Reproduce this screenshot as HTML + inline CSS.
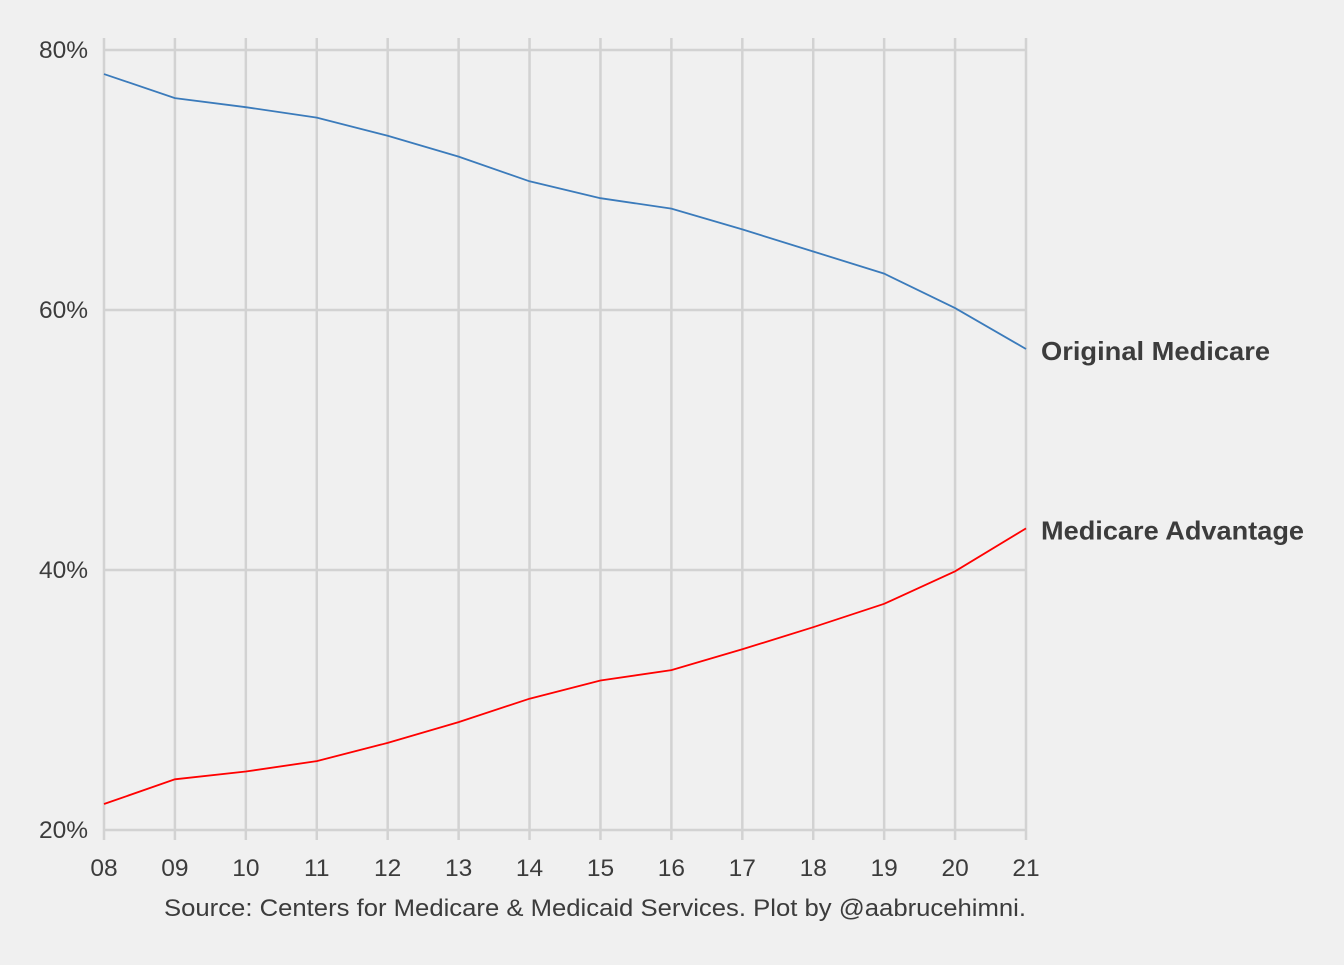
<!DOCTYPE html>
<html><head><meta charset="utf-8"><style>
body{margin:0;background:#f0f0f0;}
svg text{font-family:"Liberation Sans",sans-serif;fill:#3c3c3c;}
</style></head><body>
<svg id="chart" width="1344" height="960" viewBox="0 0 1344 960" xmlns="http://www.w3.org/2000/svg">
<rect width="1344" height="960" fill="#f0f0f0"/>
<g id="grid"></g><g id="axes"></g><g id="series"></g>
<text x="164" y="916" font-size="24" textLength="862" lengthAdjust="spacingAndGlyphs">Source: Centers for Medicare &amp; Medicaid Services. Plot by @aabrucehimni.</text>
</svg>
<script>
const years = ['08','09','10','11','12','13','14','15','16','17','18','19','20','21'];
const originalMedicare = [78.15,76.3,75.6,74.8,73.4,71.8,69.9,68.6,67.8,66.2,64.5,62.8,60.15,57.0];
const medicareAdvantage = [22.0,23.9,24.5,25.3,26.7,28.3,30.1,31.5,32.3,33.9,35.6,37.4,39.9,43.2];
const yTicks = [20,40,60,80];
const yTickLabels = ['20%','40%','60%','80%'];
const seriesNames = ['Original Medicare','Medicare Advantage'];

const NS='http://www.w3.org/2000/svg';
const x0=104,x1=1026,y20=830,y80=50;
const xs=i=>x0+(x1-x0)*i/(years.length-1);
const ys=v=>y20+(v-20)*(y80-y20)/60;
function mk(tag,attrs,parent){const e=document.createElementNS(NS,tag);for(const k in attrs)e.setAttribute(k,attrs[k]);parent.appendChild(e);return e;}
const grid=document.getElementById('grid'),axes=document.getElementById('axes'),ser=document.getElementById('series');
yTicks.forEach((t,i)=>{
  const l=mk('line',{x1:x0,x2:x1,y1:ys(t),y2:ys(t),stroke:'#d2d2d2','stroke-width':2.5},grid);
  
  
  const tx=mk('text',{x:88,y:ys(t)+8,'text-anchor':'end','font-size':24.5},axes);
  tx.textContent=yTickLabels[i];
  
  
});
years.forEach((yr,i)=>{
  const l=mk('line',{x1:xs(i),x2:xs(i),y1:38,y2:840,stroke:'#d2d2d2','stroke-width':2.5},grid);
  
  
  const tx=mk('text',{x:xs(i),y:876,'text-anchor':'middle','font-size':24.5},axes);
  tx.textContent=yr;
  
  
});
const labelWidths=[229,263];
[[originalMedicare,'#3b7bbb','original-medicare-line'],[medicareAdvantage,'#ff0000','medicare-advantage-line']].forEach(([d,c,n],k)=>{
  const p=mk('polyline',{points:d.map((v,i)=>xs(i)+','+ys(v)).join(' '),fill:'none',stroke:c,'stroke-width':1.8},ser);
  
  
  const tx=mk('text',{x:1041,y:ys(d[d.length-1])+11,'font-size':26,'font-weight':'bold',textLength:labelWidths[k],lengthAdjust:'spacingAndGlyphs'},ser);
  tx.textContent=seriesNames[k];
  
  
});
</script>
</body></html>
